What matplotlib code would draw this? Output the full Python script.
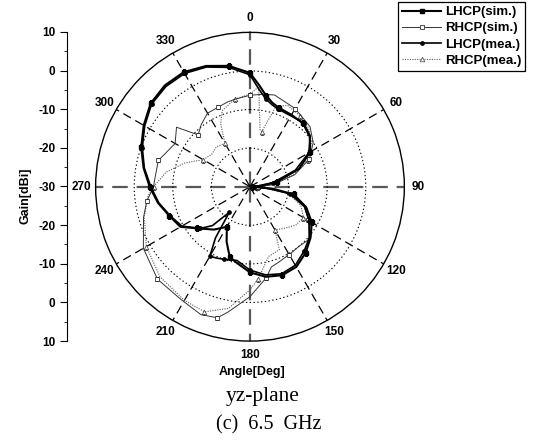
import numpy as np
import matplotlib
matplotlib.use('Agg')
import matplotlib.pyplot as plt
from matplotlib.ticker import MultipleLocator, FuncFormatter
from matplotlib.lines import Line2D

plt.rcParams['font.family'] = ['Liberation Sans', 'DejaVu Sans']
plt.rcParams['font.weight'] = 'bold'

# yz-plane pattern at 6.5 GHz, angle [deg] vs gain [dBi]
lhcp_sim_deg = [0, 5, 10, 15, 20, 30, 40, 50, 60, 70, 80, 85, 90, 95, 100, 110, 120,
                130, 140, 150, 160, 170, 180, 190, 196, 203, 210, 220, 232, 240, 250,
                260, 270, 280, 290, 300, 310, 320, 330, 340, 350, 360]
lhcp_sim_gain = [-0.5, -3.5, -6.0, -7.5, -8.2, -8.5, -8.6, -9.8, -12.0, -16.5, -23.0,
                 -27.0, -29.5, -24.0, -18.5, -14.5, -11.5, -9.5, -7.6, -6.0, -5.6, -6.3,
                 -7.8, -10.0, -11.0, -14.5, -18.0, -15.5, -12.5, -9.2, -7.8, -5.8, -4.0,
                 -2.0, 0.0, 1.8, 3.6, 4.3, 4.3, 3.3, 1.8, -0.5]

rhcp_sim_deg = [0, 8, 15, 30, 45, 55, 65, 75, 85, 90, 100, 110, 120, 132, 140, 150,
                160, 165, 170, 180, 190, 194, 201, 211, 225, 240, 254, 262, 270, 276,
                286, 300, 309, 315, 322, 330, 338, 345, 350, 360]
rhcp_sim_gain = [-6.3, -5.8, -5.4, -6.6, -8.0, -10.0, -13.0, -18.0, -24.0, -28.0, -19.0,
                 -15.0, -12.5, -9.5, -10.0, -9.7, -9.0, -8.5, -6.0, -1.5, 3.0, 5.0, 5.5,
                 4.3, 3.9, 1.9, -1.3, -3.0, -5.0, -5.3, -5.3, -7.6, -5.5, -11.0, -9.5,
                 -8.0, -7.8, -7.3, -7.0, -6.3]

lhcp_mea_deg = [0, 5, 10, 15, 20, 30, 40, 50, 60, 70, 80, 85, 90, 95, 100, 110, 120,
                130, 140, 150, 160, 170, 180, 190, 200, 205, 210, 214, 219, 224, 230,
                240, 250, 260, 270, 280, 290, 300, 310, 320, 330, 340, 350, 360]
lhcp_mea_gain = [-1.0, -4.5, -6.8, -8.0, -8.6, -8.8, -8.4, -9.6, -12.4, -17.5, -24.0,
                 -28.0, -29.0, -25.0, -19.5, -15.0, -12.2, -9.8, -8.2, -6.5, -6.0, -6.8,
                 -8.4, -10.6, -10.0, -9.6, -9.2, -14.0, -21.5, -16.0, -13.2, -9.6, -8.0,
                 -6.0, -4.3, -2.2, -0.3, 1.5, 3.3, 3.9, 3.9, 3.0, 1.4, -1.0]

rhcp_mea_deg = [0, 5, 10, 12, 18, 25, 35, 45, 55, 65, 75, 85, 90, 100, 110, 120, 130,
                140, 150, 155, 165, 175, 180, 190, 200, 210, 225, 240, 254, 265, 270,
                280, 290, 300, 310, 320, 330, 335, 340, 350, 360]
rhcp_mea_gain = [-6.0, -4.0, -15.0, -15.4, -8.0, -6.8, -7.5, -8.5, -10.5, -13.5, -18.5,
                 -25.0, -28.0, -20.0, -16.0, -14.0, -14.5, -16.0, -17.0, -12.0, -11.3,
                 -6.0, -3.3, 2.0, 4.5, 4.0, 3.0, 1.0, -1.5, -3.5, -5.0, -8.0, -12.0,
                 -16.0, -17.0, -16.5, -17.0, -12.0, -9.0, -7.0, -6.0]

angle_ticks = list(range(0, 360, 30))

fig = plt.figure(figsize=(5.36, 4.41), dpi=100)
ax = fig.add_axes([0.1784, 0.2265, 0.576, 0.7002], projection='polar')
ax.set_theta_zero_location('N')
ax.set_theta_direction(-1)
ax.set_ylim(-30, 10)

ax.plot(np.deg2rad(rhcp_mea_deg), rhcp_mea_gain, color='0.35', lw=0.8,
        ls=(0, (1, 1.2)), marker='^', ms=3.3, mfc='white', mec='0.3', mew=0.6,
        markevery=3, label='RHCP(mea.)')
ax.plot(np.deg2rad(rhcp_sim_deg), rhcp_sim_gain, color='0.2', lw=0.7,
        marker='s', ms=3.0, mfc='white', mec='0.2', mew=0.6,
        markevery=3, label='RHCP(sim.)')
ax.plot(np.deg2rad(lhcp_mea_deg), lhcp_mea_gain, color='k', lw=1.2,
        marker='o', ms=2.4, markevery=2, label='LHCP(mea.)')
ax.plot(np.deg2rad(lhcp_sim_deg), lhcp_sim_gain, color='k', lw=1.5,
        marker='s', ms=2.8, markevery=2, label='LHCP(sim.)')

# rings and spokes
ax.set_yticks([-20, -10, 0])
ax.set_yticklabels([])
ax.yaxis.grid(True, color='k', lw=0.8, ls=(0, (1.2, 2.2)))
ax.set_xticks(np.deg2rad(angle_ticks))
ax.set_xticklabels([str(a) for a in angle_ticks], fontsize=8.5, fontweight='bold')
ax.xaxis.set_minor_locator(MultipleLocator(np.deg2rad(15)))
ax.xaxis.grid(True, color='k', lw=0.9, ls=(0, (7, 4)))
ax.tick_params(axis='x', which='both', direction='in', length=4, width=0.7, pad=3)
for i, gl in enumerate(ax.xaxis.get_gridlines()):
    if i % 3 == 0:
        gl.set_linewidth(1.6)
        gl.set_color('0.35')
ax.spines['polar'].set_linewidth(1.0)

# linear gain scale on the left
gax = fig.add_axes([66.5 / 536, 100 / 441, 0.0001, 309 / 441])
gax.set_ylim(-40, 40)
gax.yaxis.set_major_locator(MultipleLocator(10))
gax.yaxis.set_minor_locator(MultipleLocator(5))
gax.yaxis.set_major_formatter(FuncFormatter(lambda v, p: f'{abs(v) - 30:.0f}'))
gax.set_xticks([])
for s in ['top', 'right', 'bottom']:
    gax.spines[s].set_visible(False)
gax.spines['left'].set_linewidth(0.8)
gax.patch.set_visible(False)
gax.tick_params(axis='y', which='major', length=5, width=0.8, pad=3, labelsize=8.5)
gax.tick_params(axis='y', which='minor', length=2.5, width=0.6)

fig.text(25 / 536, 1 - 196 / 441, 'Gain[dBi]', rotation=90, ha='center', va='center',
         fontsize=9, fontweight='bold')
fig.text(252 / 536, 1 - 372 / 441, 'Angle[Deg]', ha='center', va='center',
         fontsize=9, fontweight='bold')
fig.text(263 / 536, 1 - 397 / 441, 'yz-plane', ha='center', va='center',
         family='Liberation Serif', fontweight='normal', fontsize=15.5)
fig.text(269 / 536, 1 - 425 / 441, '(c)  6.5  GHz', ha='center', va='center',
         family='Liberation Serif', fontweight='normal', fontsize=14.5)

handles = [
    Line2D([], [], color='k', lw=1.5, marker='s', ms=2.8),
    Line2D([], [], color='0.2', lw=0.7, marker='s', ms=3.0, mfc='white', mew=0.6),
    Line2D([], [], color='k', lw=1.2, marker='o', ms=2.4),
    Line2D([], [], color='0.35', lw=0.8, ls=(0, (1, 1.2)), marker='^', ms=3.3,
           mfc='white', mew=0.6),
]
labels = ['LHCP(sim.)', 'RHCP(sim.)', 'LHCP(mea.)', 'RHCP(mea.)']
leg = fig.legend(handles, labels, loc='upper right', bbox_to_anchor=(525 / 536, 1 - 2 / 441),
                 frameon=True, fancybox=False, edgecolor='k', framealpha=1,
                 borderaxespad=0, handlelength=3.0, handletextpad=0.25,
                 labelspacing=0.3, borderpad=0.3, prop={'size': 9.5, 'weight': 'bold'})
leg.get_frame().set_linewidth(0.9)

fig.savefig('out.png', dpi=100)
